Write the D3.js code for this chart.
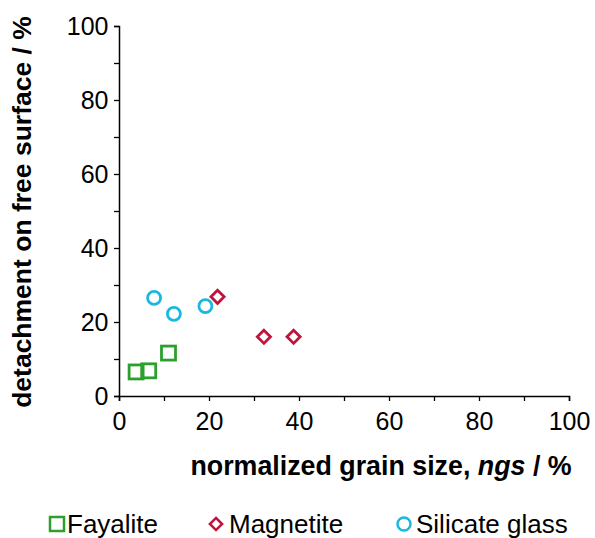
<!DOCTYPE html>
<html><head><meta charset="utf-8">
<script src="https://cdn.jsdelivr.net/npm/d3@7"></script>
<style>body{margin:0;background:#fff}text{font-family:Arial,"Liberation Sans",sans-serif}</style>
</head><body><svg id="c" width="595" height="538"></svg>
<script>
var fayX = [3.8, 6.6, 11], fayY = [6.5, 6.8, 11.6];
var magX = [21.9, 32.2, 38.8], magY = [26.8, 16, 16];
var silX = [7.8, 12.2, 19.2], silY = [26.5, 22.2, 24.3];
var ticks = [0, 20, 40, 60, 80, 100];

var svg = d3.select("#c");
var x = d3.scaleLinear().domain([0, 100]).range([119, 569]);
var y = d3.scaleLinear().domain([0, 100]).range([396, 26]);
var minor = d3.range(0, 101, 10);

var gx = svg.append("g").attr("transform", "translate(0,396)")
  .call(d3.axisBottom(x).tickValues(minor).tickSize(5).tickFormat(d => ticks.includes(d) ? d : ""));
var gy = svg.append("g").attr("transform", "translate(119,0)")
  .call(d3.axisLeft(y).tickValues(minor).tickSize(5).tickFormat(d => ticks.includes(d) ? d : ""));
[gx, gy].forEach(g => {
  g.select(".domain").attr("stroke-width", 1.5);
  g.selectAll("line").attr("stroke-width", 1.3);
  g.selectAll("text").attr("font-size", 25).attr("fill", "#000");
});
gx.selectAll("text").attr("dy", "1.05em");
gy.selectAll("text").attr("dx", "-0.1em");

svg.append("text").attr("x", 381).attr("y", 475).attr("text-anchor", "middle")
  .attr("font-size", 26.8).attr("font-weight", "bold")
  .html('normalized grain size, <tspan font-style="italic">ngs</tspan> / %');
svg.append("text").attr("transform", "translate(31,212) rotate(-90)").attr("text-anchor", "middle")
  .attr("font-size", 26.5).attr("font-weight", "bold").text("detachment on free surface / %");

var g = svg.append("g").attr("fill", "none").attr("stroke-width", 2.8);
g.selectAll(".f").data(fayX).enter().append("rect")
  .attr("x", (d) => x(d) - 7).attr("y", (d, i) => y(fayY[i]) - 7).attr("width", 14).attr("height", 14)
  .attr("stroke", "#2ca02c");
g.selectAll(".m").data(magX).enter().append("path")
  .attr("d", (d, i) => d3.symbol(d3.symbolDiamond2, 110)())
  .attr("transform", (d, i) => `translate(${x(d)},${y(magY[i])})`).attr("stroke", "#c0143c");
g.selectAll(".s").data(silX).enter().append("circle")
  .attr("cx", (d) => x(d)).attr("cy", (d, i) => y(silY[i])).attr("r", 6.5)
  .attr("stroke", "#1ab8e0");

var leg = svg.append("g");
var items = [["Fayalite", "sq", "#2ca02c", 57, 67], ["Magnetite", "di", "#c0143c", 216, 229], ["Silicate glass", "ci", "#1ab8e0", 404, 416]];
items.forEach(it => {
  var cx = it[3], cy = 524;
  if (it[1] === "sq") leg.append("rect").attr("x", cx - 7).attr("y", cy - 7).attr("width", 14).attr("height", 14);
  else if (it[1] === "di") leg.append("path").attr("d", d3.symbol(d3.symbolDiamond2, 95)()).attr("transform", `translate(${cx},${cy})`);
  else leg.append("circle").attr("cx", cx).attr("cy", cy).attr("r", 6.5);
  leg.selectAll(":last-child").attr("fill", "none").attr("stroke", it[2]).attr("stroke-width", 2.5);
  leg.append("text").attr("x", it[4]).attr("y", cy + 9).attr("font-size", 26).text(it[0]);
});
</script></body></html>
